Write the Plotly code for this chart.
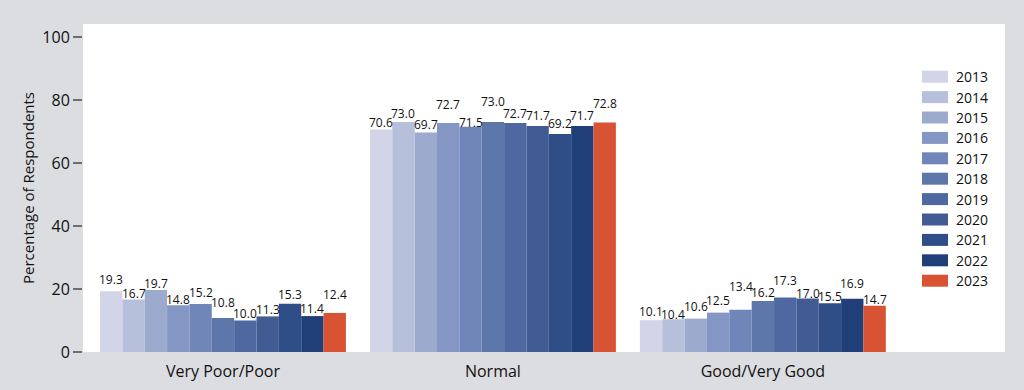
import plotly.graph_objects as go

categories = ["Very Poor/Poor", "Normal", "Good/Very Good"]
years = ["2013", "2014", "2015", "2016", "2017", "2018", "2019", "2020", "2021", "2022", "2023"]
values = {
    "2013": [19.3, 70.6, 10.1],
    "2014": [16.7, 73.0, 10.4],
    "2015": [19.7, 69.7, 10.6],
    "2016": [14.8, 72.7, 12.5],
    "2017": [15.2, 71.5, 13.4],
    "2018": [10.8, 73.0, 16.2],
    "2019": [10.0, 72.7, 17.3],
    "2020": [11.3, 71.7, 17.0],
    "2021": [15.3, 69.2, 15.5],
    "2022": [11.4, 71.7, 16.9],
    "2023": [12.4, 72.8, 14.7],
}
y_ticks = [0, 20, 40, 60, 80, 100]

# styles
colors = ["#d2d5e7", "#b6c0db", "#9caacd", "#8496c3", "#7186b8", "#5e77ab",
          "#4f69a0", "#405c93", "#2f4d86", "#203f78", "#d75333"]
# pixel lift of each value label above its bar top (per category, per year)
label_lift = [
    [12, 6, 6, 6, 12, 15, 7, 7, 9, 8, 18],
    [7, 8, 8, 18, 4, 20, 9, 11, 10, 11, 19],
    [9, 5, 12, 12, 23, 8, 17, 5, 7, 15, 6],
]
FONT = "Open Sans"
BARGAP = 0.089

fig = go.Figure()
x_idx = list(range(len(categories)))
for i, yr in enumerate(years):
    fig.add_trace(go.Bar(
        x=x_idx, y=values[yr], name=yr, marker=dict(color=colors[i], line=dict(width=0)),
        showlegend=False,
    ))

n = len(years)
w = (1 - BARGAP) / n
annotations = []
for i, yr in enumerate(years):
    for c, v in enumerate(values[yr]):
        xc = c - (1 - BARGAP) / 2 + w * (i + 0.5)
        annotations.append(dict(
            x=xc, y=v, xref="x", yref="y", text=f"{v:.1f}", showarrow=False,
            yanchor="middle", yshift=label_lift[c][i], borderpad=0,
            font=dict(family=FONT, size=12, color="#111"),
        ))

# manual legend
L0, T0 = 83, 24
PW, PH = 922, 328
def px2x(px):
    return (px - L0) / PW
def py2y(py):
    return (T0 + PH - py) / PH

shapes = []
for i, yr in enumerate(years):
    yc = 76.7 + 20.4 * i
    shapes.append(dict(type="rect", xref="paper", yref="paper",
                       x0=px2x(922), x1=px2x(948), y0=py2y(yc + 6), y1=py2y(yc - 6),
                       fillcolor=colors[i], line=dict(width=0)))
    annotations.append(dict(x=px2x(954), y=py2y(yc), xref="paper", yref="paper", text=yr,
                            showarrow=False, xanchor="left", yanchor="middle",
                            font=dict(family=FONT, size=14, color="#111")))

annotations.append(dict(x=px2x(28), y=0.5, xref="paper", yref="paper", text="Percentage of Respondents",
                        textangle=-90, showarrow=False, xanchor="center", yanchor="middle",
                        font=dict(family=FONT, size=15, color="#111")))

fig.update_layout(
    width=1024, height=390,
    margin=dict(l=83, r=19, t=24, b=38, autoexpand=False),
    paper_bgcolor="#dcdde0", plot_bgcolor="#ffffff",
    barmode="group", bargap=BARGAP, bargroupgap=0,
    font=dict(family=FONT, color="#111"),
    annotations=annotations, shapes=shapes,
    showlegend=False,
)
fig.update_xaxes(
    tickvals=x_idx, ticktext=categories, range=[-0.5185, 2.897],
    showgrid=False, zeroline=False, showline=False,
    ticks="outside", ticklen=5, tickcolor="rgba(0,0,0,0)",
    tickfont=dict(family=FONT, size=16, color="#111"),
)
fig.update_yaxes(
    range=[0, 104.1], tickvals=y_ticks, showgrid=False, zeroline=False, showline=False,
    ticks="outside", ticklen=9, tickwidth=2, tickcolor="#6e6e6e",
    tickfont=dict(family=FONT, size=16, color="#111"),
)

fig.write_html("out.html", config={"displayModeBar": False},
               post_script="document.body.style.margin='0';document.body.style.overflow='hidden';")
